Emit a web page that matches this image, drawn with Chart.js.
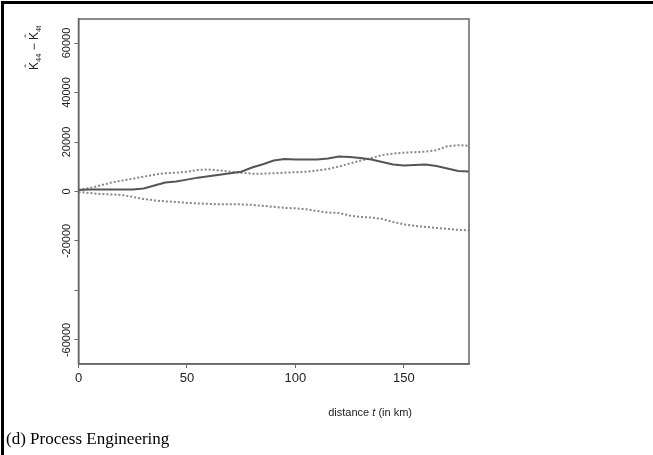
<!DOCTYPE html>
<html>
<head>
<meta charset="utf-8">
<script src="https://cdn.jsdelivr.net/npm/chart.js@4.4.0/dist/chart.umd.min.js"></script>
<style>
  html, body { margin: 0; padding: 0; background: #fff; }
  #wrap { position: relative; width: 653px; height: 455px; overflow: hidden; }
  #frame { position: absolute; left: 1px; top: 1px; right: -5px; bottom: -5px; border-top: 3px solid #000; border-left: 3px solid #000; }
  #plot { position: absolute; left: 0; top: 0; }
  #caption { position: absolute; left: 6px; top: 429px; font-family: 'Liberation Serif', 'Times New Roman', serif; font-size: 17px; color: #000; white-space: nowrap; }
</style>
</head>
<body>
<div id="wrap">
  <div id="frame"></div>
  <canvas id="plot" width="653" height="455"></canvas>
  <div id="caption">(d) Process Engineering</div>
</div>
<script>
// distance t (km)
const distance = [0, 5, 10, 15, 20, 25, 30, 35, 40, 45, 50, 55, 60, 65, 70, 75, 80, 85, 90,
    95, 100, 105, 110, 115, 120, 125, 130, 135, 140, 145, 150, 155, 160, 165, 170, 175, 180];

// K44 - K4t estimate (solid)
const estimate = [600, 800, 800, 800, 800, 800, 1200, 2400, 3600, 4000, 4800, 5600, 6200, 6800, 7400, 8000, 9700, 11000, 12500,
    13100, 12900, 12900, 12900, 13300, 14100, 13900, 13500, 12900, 11900, 10900, 10500, 10700, 10900, 10300, 9300, 8300, 8100];

// upper envelope (dotted)
const upperEnv = [800, 1400, 2400, 3600, 4400, 5200, 6000, 6800, 7400, 7600, 8000, 8700, 8900, 8500, 8000, 7600, 7200, 7200, 7400,
    7600, 7800, 8000, 8500, 9100, 10100, 11300, 12500, 13500, 14700, 15300, 15700, 15900, 16100, 16700, 18300, 18700, 18500];

// lower envelope (dotted)
const lowerEnv = [-200, -600, -1000, -1200, -1400, -2200, -3000, -3600, -4000, -4200, -4600, -4800, -5000, -5200, -5200, -5200, -5400, -5800, -6200,
    -6600, -6800, -7200, -7900, -8500, -8700, -9700, -10300, -10500, -11100, -12300, -13300, -13900, -14300, -14700, -15100, -15500, -15700];

const xTicks = [0, 50, 100, 150];
const yTicks = [-60000, -40000, -20000, 0, 20000, 40000, 60000];
const yHidden = [-40000];

const toPoints = vals => distance.map((d, i) => ({ x: d, y: vals[i] }));

// Full box around the plot region
const boxPlugin = {
    id: 'box',
    afterDraw(chart) {
        const { ctx, chartArea: a } = chart;
        ctx.save();
        ctx.strokeStyle = '#666';
        ctx.lineWidth = 1.5;
        ctx.strokeRect(a.left, a.top, a.right - a.left, a.bottom - a.top);
        ctx.restore();
    }
};

// Axis titles (mixed styles / subscripts)
const titlesPlugin = {
    id: 'titles',
    afterDraw(chart) {
        const ctx = chart.ctx;
        ctx.save();
        ctx.fillStyle = '#222';
        ctx.textBaseline = 'alphabetic';

        // x title: distance t (in km), right aligned
        const f = '11px "Liberation Sans", Arial, sans-serif';
        const fi = 'italic 11px "Liberation Sans", Arial, sans-serif';
        const parts = [['distance ', f], ['t', fi], [' (in km)', f]];
        let w = 0;
        parts.forEach(p => { ctx.font = p[1]; w += ctx.measureText(p[0]).width; });
        let x = 412 - w;
        parts.forEach(p => { ctx.font = p[1]; ctx.fillText(p[0], x, 416); x += ctx.measureText(p[0]).width; });

        // y title: K^44 - K^4t, rotated (hat drawn as a spacing circumflex over each K)
        ctx.translate(38, 70);
        ctx.rotate(-Math.PI / 2);
        const big = '12px "Liberation Sans", Arial, sans-serif';
        const sub = '7.5px "Liberation Sans", Arial, sans-serif';
        const seq = [['K', big, 0, true], ['44', sub, 3, false], [' \u2212 ', big, 0, false], ['K', big, 0, true], ['4t', sub, 3, false]];
        let pos = 0;
        seq.forEach(s => {
            ctx.font = s[1];
            const wd = ctx.measureText(s[0]).width;
            ctx.fillText(s[0], pos, s[2]);
            if (s[3]) {
                ctx.font = '11px "Liberation Sans", Arial, sans-serif';
                ctx.textAlign = 'center';
                ctx.fillText('\u02C6', pos + wd / 2, -5);
                ctx.textAlign = 'left';
            }
            pos += wd;
        });
        ctx.restore();
    }
};

new Chart(document.getElementById('plot'), {
    type: 'line',
    data: {
        datasets: [
            {
                label: 'estimate',
                data: toPoints(estimate),
                borderColor: '#555',
                borderWidth: 2,
                pointRadius: 0,
                tension: 0
            },
            {
                label: 'upper',
                data: toPoints(upperEnv),
                borderColor: '#888',
                borderWidth: 2,
                borderDash: [2, 2],
                pointRadius: 0,
                tension: 0
            },
            {
                label: 'lower',
                data: toPoints(lowerEnv),
                borderColor: '#888',
                borderWidth: 2,
                borderDash: [2, 2],
                pointRadius: 0,
                tension: 0
            }
        ]
    },
    options: {
        responsive: false,
        animation: false,
        layout: { padding: { left: 0, top: 19, right: 184, bottom: 0 } },
        plugins: {
            legend: { display: false },
            tooltip: { enabled: false }
        },
        scales: {
            x: {
                type: 'linear',
                min: 0,
                max: 180,
                afterBuildTicks: s => { s.ticks = xTicks.map(v => ({ value: v })); },
                afterFit: s => { s.height = 91; },
                grid: { drawOnChartArea: false, drawTicks: true, tickLength: 4, color: '#666' },
                border: { display: true, color: '#666', width: 1.5 },
                ticks: {
                    color: '#222',
                    padding: 3,
                    maxRotation: 0,
                    font: { family: '"Liberation Sans", Arial, sans-serif', size: 13 },
                    callback: v => String(v)
                }
            },
            y: {
                type: 'linear',
                min: -69700,
                max: 69700,
                afterBuildTicks: s => { s.ticks = yTicks.map(v => ({ value: v })); },
                afterFit: s => { s.width = 78.5; },
                grid: { drawOnChartArea: false, drawTicks: true, tickLength: 4, color: '#666' },
                border: { display: true, color: '#666', width: 1.5 },
                ticks: {
                    color: '#222',
                    minRotation: 90,
                    maxRotation: 90,
                    crossAlign: 'center',
                    padding: -10,
                    font: { family: '"Liberation Sans", Arial, sans-serif', size: 11 },
                    callback: v => yHidden.includes(v) ? '' : String(v)
                }
            }
        }
    },
    plugins: [boxPlugin, titlesPlugin]
});
</script>
</body>
</html>
